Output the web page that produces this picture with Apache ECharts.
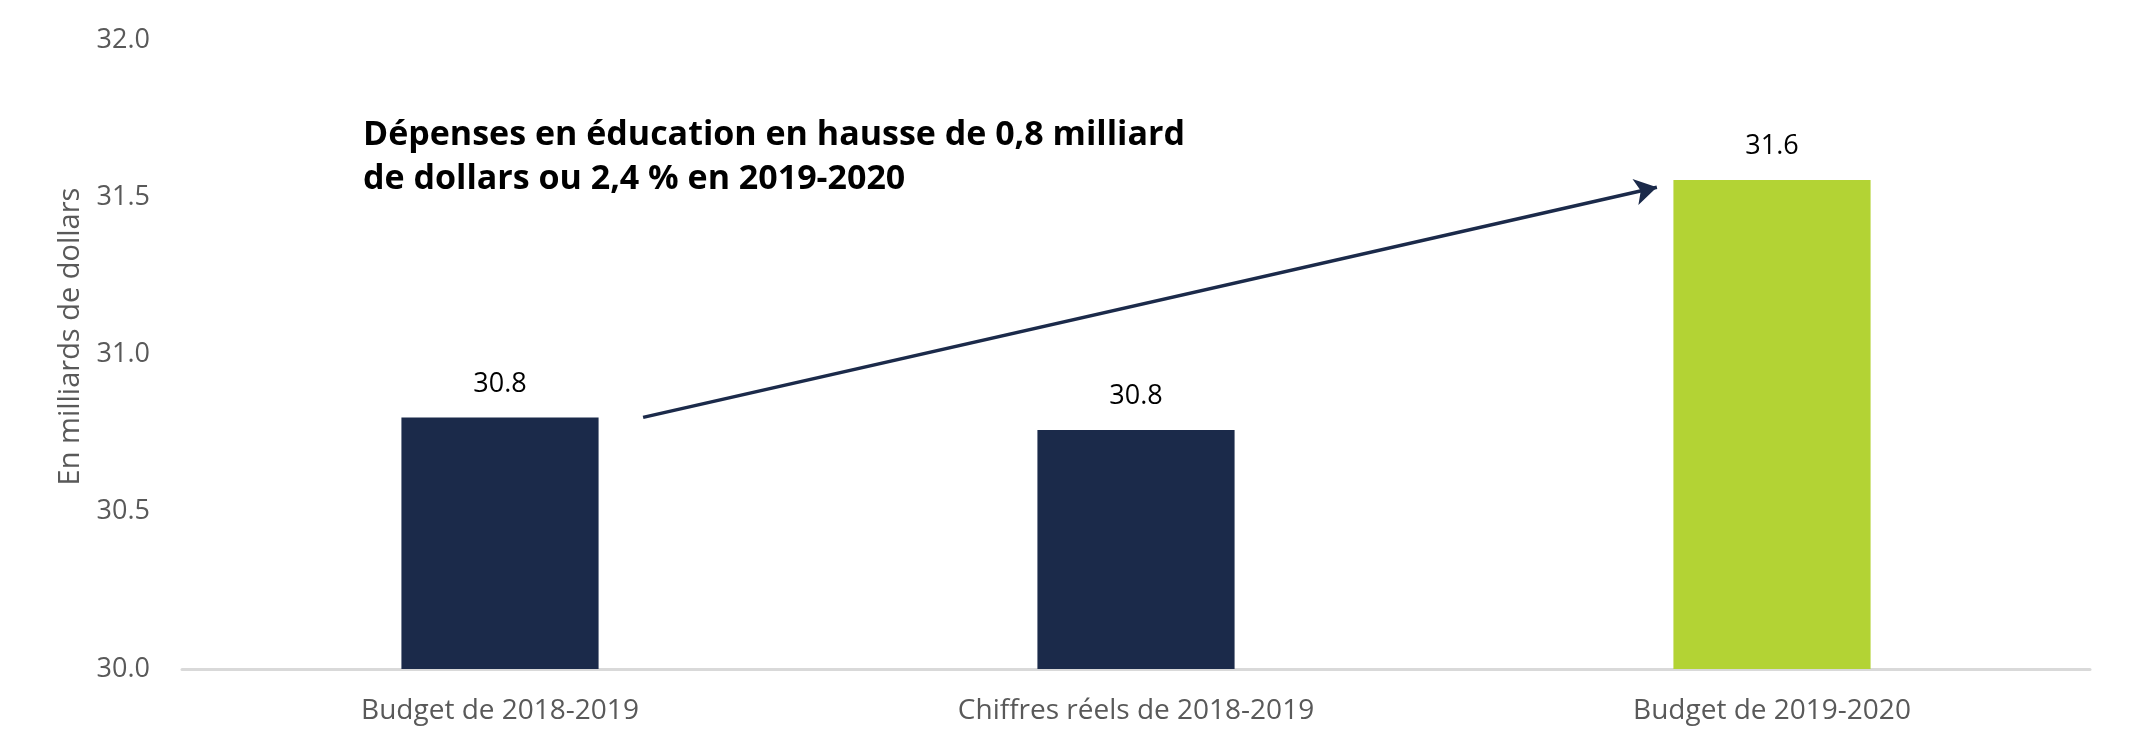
<!DOCTYPE html>
<html>
<head>
<meta charset="utf-8">
<script src="https://cdn.jsdelivr.net/npm/echarts@6/dist/echarts.min.js"></script>
<style>
html,body{margin:0;padding:0;background:#fff;}
#chart{width:2131px;height:754px;}
</style>
</head>
<body>
<div id="chart"></div>
<script>
const categories = ['Budget de 2018-2019', 'Chiffres réels de 2018-2019', 'Budget de 2019-2020'];
const values = [30.80, 30.76, 31.555];
const barColors = ['#1b2a4a', '#1b2a4a', '#b3d334'];
const yTicks = [30.0, 30.5, 31.0, 31.5, 32.0];
const yAxisName = 'En milliards de dollars';
const annotationLines = ['Dépenses en éducation en hausse de 0,8 milliard', 'de dollars ou 2,4 % en 2019-2020'];
// arrow end points: [position along category axis (0..3), value]
const arrowStart = [0.725, 30.80];
const arrowEnd = [2.319, 31.532];

const FONT = '"Open Sans", "Noto Sans", sans-serif';
const chart = echarts.init(document.getElementById('chart'));
chart.setOption({
  animation: false,
  backgroundColor: '#ffffff',
  title: {
    text: annotationLines.join('\n'),
    left: 358,
    top: 108,
    textStyle: {
      fontFamily: FONT,
      fontWeight: 'bold',
      fontSize: 34,
      lineHeight: 44,
      color: '#000000'
    }
  },
  grid: { left: 182, right: 41, top: 40, bottom: 85, containLabel: false },
  xAxis: [
    {
      type: 'category',
      data: categories,
      axisLine: { show: true, lineStyle: { color: '#d9d9d9', width: 3 } },
      axisTick: { show: false },
      axisLabel: { color: '#595959', fontFamily: FONT, fontSize: 28, margin: 28 }
    },
    {
      type: 'value',
      min: 0,
      max: 3,
      show: false
    }
  ],
  yAxis: {
    type: 'value',
    min: yTicks[0],
    max: yTicks[yTicks.length - 1],
    interval: 0.5,
    name: yAxisName,
    nameLocation: 'middle',
    nameGap: 86,
    nameRotate: 90,
    nameTextStyle: { color: '#595959', fontFamily: FONT, fontSize: 29, padding: [0, 0, 0, 36] },
    axisLine: { show: false },
    axisTick: { show: false },
    splitLine: { show: false },
    axisLabel: {
      color: '#595959',
      fontFamily: FONT,
      fontSize: 27,
      margin: 32,
      formatter: v => v.toFixed(1)
    }
  },
  series: [
    {
      type: 'bar',
      xAxisIndex: 0,
      barWidth: '31%',
      data: values.map((v, i) => ({ value: v, itemStyle: { color: barColors[i] } })),
      label: {
        show: true,
        position: 'top',
        distance: 20,
        color: '#000000',
        fontFamily: FONT,
        fontSize: 27,
        formatter: p => p.value.toFixed(1)
      }
    },
    {
      type: 'line',
      xAxisIndex: 1,
      data: [],
      silent: true,
      markLine: {
        silent: true,
        symbol: ['none', 'arrow'],
        symbolSize: [20, 22],
        label: { show: false },
        lineStyle: { color: '#1b2a4a', width: 3.5, type: 'solid' },
        emphasis: { disabled: true },
        data: [[{ coord: arrowStart }, { coord: arrowEnd }]]
      }
    }
  ]
});
</script>
</body>
</html>
